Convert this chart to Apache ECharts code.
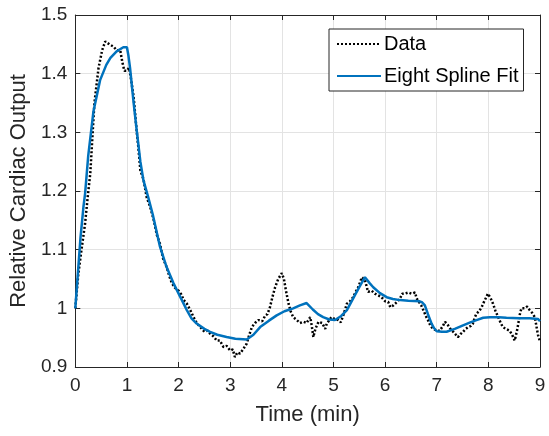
<!DOCTYPE html>
<html>
<head>
<meta charset="utf-8">
<script src="https://cdn.jsdelivr.net/npm/echarts@6/dist/echarts.min.js"></script>
<style>
html,body{margin:0;padding:0;background:#fff;}
#chart{width:549px;height:436px;}
</style>
</head>
<body>
<div id="chart"></div>
<script>
// Measured data (dotted black)
var dataTime = [0.00,0.03,0.06,0.12,0.19,0.24,0.29,0.33,0.37,0.45,0.52,0.58,0.61,0.66,0.74,0.80,0.87,0.91,0.95,1.00,1.04,1.08,1.13,1.18,1.22,1.26,1.32,1.38,1.45,1.52,1.58,1.64,1.70,1.77,1.82,1.87,1.93,2.00,2.05,2.10,2.16,2.22,2.29,2.35,2.42,2.50,2.56,2.61,2.68,2.74,2.80,2.87,2.93,3.00,3.05,3.09,3.14,3.19,3.25,3.32,3.37,3.42,3.48,3.55,3.62,3.68,3.72,3.77,3.82,3.87,3.93,4.00,4.04,4.08,4.13,4.17,4.22,4.29,4.35,4.42,4.48,4.55,4.58,4.61,4.65,4.71,4.78,4.84,4.87,4.92,4.96,5.02,5.09,5.14,5.19,5.26,5.32,5.38,5.43,5.48,5.55,5.58,5.61,5.67,5.74,5.80,5.87,5.93,6.00,6.06,6.10,6.16,6.22,6.29,6.33,6.38,6.45,6.51,6.58,6.61,6.64,6.70,6.74,6.80,6.83,6.88,6.93,7.00,7.06,7.12,7.16,7.19,7.22,7.28,7.32,7.37,7.41,7.46,7.51,7.56,7.61,7.66,7.70,7.74,7.77,7.82,7.87,7.92,7.96,7.99,8.04,8.09,8.14,8.19,8.24,8.28,8.34,8.41,8.46,8.51,8.55,8.58,8.61,8.64,8.70,8.75,8.80,8.85,8.90,8.93,8.96,9.00];
var dataValues = [1.000,1.030,1.060,1.100,1.145,1.190,1.230,1.290,1.350,1.410,1.440,1.455,1.457,1.450,1.446,1.440,1.440,1.420,1.405,1.405,1.410,1.390,1.360,1.310,1.275,1.235,1.220,1.190,1.173,1.150,1.125,1.110,1.085,1.070,1.055,1.043,1.035,1.030,1.024,1.014,1.008,0.998,0.985,0.975,0.968,0.960,0.962,0.957,0.952,0.945,0.945,0.934,0.936,0.928,0.930,0.917,0.925,0.923,0.930,0.940,0.955,0.968,0.975,0.980,0.978,0.988,0.990,1.002,1.020,1.036,1.050,1.060,1.050,1.030,1.008,0.995,0.985,0.980,0.975,0.977,0.975,0.985,0.970,0.951,0.965,0.977,0.975,0.965,0.974,0.980,0.985,0.982,0.980,0.976,0.988,1.008,1.012,1.019,1.028,1.036,1.053,1.055,1.048,1.028,1.030,1.025,1.022,1.019,1.012,1.011,1.002,1.005,1.010,1.017,1.025,1.025,1.027,1.025,1.027,1.017,1.014,1.005,0.997,0.985,0.980,0.970,0.965,0.962,0.962,0.970,0.977,0.978,0.971,0.963,0.960,0.955,0.951,0.956,0.960,0.965,0.968,0.970,0.974,0.985,0.991,0.995,1.002,1.012,1.019,1.025,1.018,1.008,0.995,0.985,0.975,0.968,0.965,0.962,0.955,0.945,0.960,0.974,0.990,1.000,1.000,1.003,0.997,0.992,0.985,0.970,0.955,0.943];

// Eight spline fit (blue)
var fitTime = [0,0.05,0.1,0.16,0.19,0.25,0.35,0.48,0.6,0.68,0.8,0.93,1.0,1.03,1.06,1.13,1.2,1.26,1.32,1.41,1.5,1.64,1.77,1.9,2.03,2.16,2.25,2.35,2.5,2.61,2.75,2.93,3.1,3.32,3.45,3.58,3.75,3.9,4.05,4.22,4.35,4.48,4.6,4.7,4.8,4.92,5.03,5.15,5.26,5.4,5.5,5.61,5.7,5.77,5.9,6.03,6.15,6.29,6.45,6.67,6.72,6.77,6.83,6.9,6.95,7.0,7.1,7.19,7.35,7.51,7.65,7.77,7.9,8.03,8.2,8.35,8.6,8.8,8.96,9.0];
var fitValues = [1.000,1.060,1.120,1.175,1.196,1.260,1.335,1.389,1.415,1.427,1.438,1.445,1.445,1.430,1.410,1.350,1.295,1.250,1.218,1.190,1.160,1.105,1.070,1.043,1.020,0.997,0.983,0.974,0.965,0.960,0.955,0.951,0.948,0.947,0.955,0.968,0.979,0.988,0.995,1.000,1.005,1.009,0.998,0.990,0.985,0.981,0.980,0.987,0.997,1.020,1.036,1.053,1.043,1.036,1.026,1.019,1.016,1.014,1.013,1.012,1.010,1.005,0.990,0.974,0.966,0.961,0.960,0.960,0.965,0.971,0.976,0.980,0.984,0.985,0.985,0.984,0.983,0.983,0.982,0.978];

var xTicks = {min: 0, max: 9, interval: 1};
var yTicks = {min: 0.9, max: 1.5, interval: 0.1};
var seriesNames = ['Data', 'Eight Spline Fit'];
var xLabel = 'Time (min)';
var yLabel = 'Relative Cardiac Output';

function pairs(xs, ys){ return xs.map(function(x,i){ return [x, ys[i]]; }); }

var axisColor = '#262626';
var gridColor = '#e3e3e3';
var font = 'Liberation Sans, Arial, Helvetica, sans-serif';

var chart = echarts.init(document.getElementById('chart'), null, {renderer: 'canvas'});
chart.setOption({
  animation: false,
  backgroundColor: '#ffffff',
  grid: {left: 75, right: 9, top: 15, bottom: 69, containLabel: false},
  legend: {
    data: seriesNames,
    orient: 'vertical',
    left: 329, top: 29,
    backgroundColor: '#ffffff',
    borderColor: '#262626',
    borderWidth: 1,
    padding: [5, 5, 5, 7],
    itemWidth: 44, itemHeight: 14, itemGap: 12,
    itemStyle: {opacity: 0},
    textStyle: {fontFamily: font, fontSize: 20, color: '#000000', padding: [0,0,0,-2]}
  },
  xAxis: [{
    type: 'value', position: 'bottom',
    min: xTicks.min, max: xTicks.max, interval: xTicks.interval,
    name: xLabel, nameLocation: 'middle', nameGap: 37,
    nameTextStyle: {fontFamily: font, fontSize: 22, color: axisColor},
    axisLine: {show: true, onZero: false, lineStyle: {color: axisColor, width: 1}},
    axisTick: {show: true, inside: true, length: 5, lineStyle: {color: axisColor}},
    axisLabel: {fontFamily: font, fontSize: 19, color: axisColor, margin: 9},
    splitLine: {show: true, lineStyle: {color: gridColor, width: 1}}
  }, {
    type: 'value', position: 'top',
    min: xTicks.min, max: xTicks.max, interval: xTicks.interval,
    axisLine: {show: true, onZero: false, lineStyle: {color: axisColor, width: 1}},
    axisTick: {show: true, inside: true, length: 5, lineStyle: {color: axisColor}},
    axisLabel: {show: false}, splitLine: {show: false}
  }],
  yAxis: [{
    type: 'value', position: 'left',
    min: yTicks.min, max: yTicks.max, interval: yTicks.interval,
    name: yLabel, nameLocation: 'middle', nameGap: 34, nameRotate: 90,
    nameTextStyle: {fontFamily: font, fontSize: 22, color: axisColor},
    axisLine: {show: true, onZero: false, lineStyle: {color: axisColor, width: 1}},
    axisTick: {show: true, inside: true, length: 5, lineStyle: {color: axisColor}},
    axisLabel: {fontFamily: font, fontSize: 19, color: axisColor, margin: 8},
    splitLine: {show: true, lineStyle: {color: gridColor, width: 1}}
  }, {
    type: 'value', position: 'right',
    min: yTicks.min, max: yTicks.max, interval: yTicks.interval,
    axisLine: {show: true, onZero: false, lineStyle: {color: axisColor, width: 1}},
    axisTick: {show: true, inside: true, length: 5, lineStyle: {color: axisColor}},
    axisLabel: {show: false}, splitLine: {show: false}
  }],
  series: [{
    name: seriesNames[0], type: 'line',
    data: pairs(dataTime, dataValues),
    showSymbol: false, symbol: 'none',
    lineStyle: {color: '#000000', width: 2.5, type: [2, 2]},
    itemStyle: {color: '#000000'},
    z: 2
  }, {
    name: seriesNames[1], type: 'line',
    data: pairs(fitTime, fitValues),
    showSymbol: false, symbol: 'none',
    lineStyle: {color: '#0072BD', width: 2.5},
    itemStyle: {color: '#0072BD'},
    z: 3
  }]
});
</script>
</body>
</html>
